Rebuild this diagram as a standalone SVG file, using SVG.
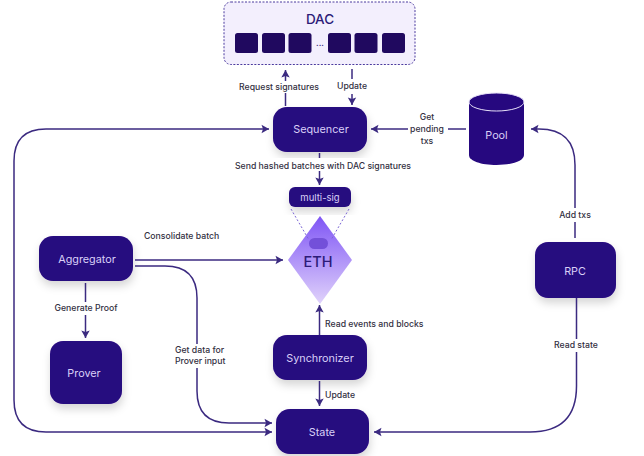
<svg xmlns="http://www.w3.org/2000/svg" width="644" height="456" viewBox="0 0 644 456">
<style>
.n{fill:#26087f}
.nt{font-family:Inter,"Liberation Sans",sans-serif;font-size:10.800px;fill:#d9d0f7;text-anchor:middle;font-weight:400}
.l{font-family:Inter,"Liberation Sans",sans-serif;font-size:8.700px;fill:#333042;font-weight:500}
.m{text-anchor:middle}
.c{fill:none;stroke:#3b2a80;stroke-width:1.500}
.a{marker-end:url(#ah)}
.sq{fill:#20095f}
.dot{fill:none;stroke:#7d68d6;stroke-width:1;stroke-dasharray:2 2}
</style>
<defs>
<marker id="ah" markerUnits="userSpaceOnUse" markerWidth="10" markerHeight="10" refX="8" refY="5" orient="auto"><path d="M0.500 0.800L8 5L0.500 9.200L2 5Z" fill="#3b2a80"/></marker>
<filter id="s" x="-20%" y="-20%" width="140%" height="160%"><feDropShadow dx="1" dy="5" stdDeviation="4" flood-color="#000" flood-opacity=".16"/></filter>
<linearGradient id="g" x1="0" y1="0" x2="0" y2="1"><stop offset="0" stop-color="#7f55f5"/><stop offset="1" stop-color="#e0d2fb"/></linearGradient>
</defs>
<g id="dac">
<rect x="224" y="2" width="191" height="62.500" rx="7" fill="#f3effd" stroke="#4b3a9e" stroke-width="1" stroke-dasharray="2 1.500"/>
<text x="320" y="24" font-family="Inter,'Liberation Sans',sans-serif" font-size="13.500" font-weight="500" fill="#2c1b78" text-anchor="middle">DAC</text>
<rect class="sq" x="235" y="33" width="23" height="20" rx="2.500"/>
<rect class="sq" x="262" y="33" width="23" height="20" rx="2.500"/>
<rect class="sq" x="288.500" y="33" width="23" height="20" rx="2.500"/>
<text x="320" y="46" font-family="Inter,'Liberation Sans',sans-serif" font-size="9" fill="#3b2a80" text-anchor="middle">...</text>
<rect class="sq" x="328" y="33" width="23" height="20" rx="2.500"/>
<rect class="sq" x="354.500" y="33" width="23" height="20" rx="2.500"/>
<rect class="sq" x="382" y="33" width="23" height="20" rx="2.500"/>
</g>
<g id="sequencer"><rect class="n" filter="url(#s)" x="273" y="107" width="94" height="45" rx="14"/><text class="nt" x="321" y="133">Sequencer</text></g>
<g id="pool"><path class="n" d="M469 102V155C469 161 481 165 496.500 165S524 161 524 155V102Z"/><ellipse class="n" cx="496.500" cy="102" rx="27.500" ry="9" stroke="#e6e0f8" stroke-width="1"/><text class="nt" x="496.500" y="139">Pool</text></g>
<g id="multisig"><rect class="n" filter="url(#s)" x="289" y="187" width="62" height="20" rx="6"/><text class="nt" x="320" y="201" style="font-size:9.500px">multi-sig</text></g>
<g id="eth">
<path d="M320 216L352 260L320 304L288 260Z" fill="url(#g)"/>
<path class="dot" d="M291 209L309 240M349 209L331 240"/>
<rect x="309" y="238" width="19" height="11" rx="5.500" fill="#7350d9"/>
<text x="318" y="267" font-family="Inter,'Liberation Sans',sans-serif" font-size="14.500" font-weight="500" fill="#2c1b78" text-anchor="middle">ETH</text>
</g>
<g id="aggregator"><rect class="n" filter="url(#s)" x="39" y="236" width="94" height="45" rx="14"/><text class="nt" x="87" y="263">Aggregator</text></g>
<g id="prover"><rect class="n" filter="url(#s)" x="50" y="341" width="72" height="63" rx="13"/><text class="nt" x="84" y="377">Prover</text></g>
<g id="synchronizer"><rect class="n" filter="url(#s)" x="273" y="335" width="94" height="45" rx="14"/><text class="nt" x="320" y="362">Synchronizer</text></g>
<g id="state"><rect class="n" filter="url(#s)" x="276" y="409" width="93" height="45" rx="14"/><text class="nt" x="322" y="436">State</text></g>
<g id="rpc"><rect class="n" filter="url(#s)" x="535" y="242" width="81" height="56" rx="13"/><text class="nt" x="575" y="275">RPC</text></g>
<g id="connectors">
<path class="c a" d="M285.500 106V70"/>
<path class="c a" d="M352 69V105"/>
<path class="c a" d="M466 129H371"/>
<path class="c a" d="M319.500 153V185"/>
<path class="c a" d="M135 260H283"/>
<path class="c a" d="M135 266H165Q197 266 197 298V391Q197 423 229 423H272"/>
<path class="c a" d="M14 280V161Q14 129 46 129H269"/>
<path class="c a" d="M14 280V400Q14 432 46 432H272"/>
<path class="c a" d="M85.500 283V338"/>
<path class="c a" d="M319.500 335V305"/>
<path class="c a" d="M319.500 381V406"/>
<path class="c a" d="M575 238V165Q575 129 539 129H531"/>
<path class="c a" d="M576.500 298V386Q576.500 432 530 432H374"/>
</g>
<g id="label-gaps" fill="#fff">
<rect x="236" y="81" width="86" height="12"/>
<rect x="335" y="79" width="34" height="15"/>
<rect x="230" y="158" width="185" height="13"/>
<rect x="408" y="111" width="40" height="36"/>
<rect x="50" y="302" width="72" height="13"/>
<rect x="172" y="344" width="56" height="24"/>
<rect x="550" y="339" width="52" height="13"/>
<rect x="556" y="208" width="38" height="14"/>
</g>
<g id="texts">
<text class="l m" x="279" y="90">Request signatures</text>
<text class="l m" x="352" y="89">Update</text>
<text class="l m" x="323" y="169">Send hashed batches with DAC signatures</text>
<text class="l m" x="427" y="120">Get</text>
<text class="l m" x="427" y="132">pending</text>
<text class="l m" x="427" y="144">txs</text>
<text class="l" x="144" y="239">Consolidate batch</text>
<text class="l m" x="86" y="311">Generate Proof</text>
<text class="l" x="175" y="353">Get data for</text>
<text class="l" x="175" y="364">Prover input</text>
<text class="l" x="325" y="327">Read events and blocks</text>
<text class="l" x="325" y="398">Update</text>
<text class="l m" x="575" y="218">Add txs</text>
<text class="l m" x="576" y="348">Read state</text>
</g>
</svg>
